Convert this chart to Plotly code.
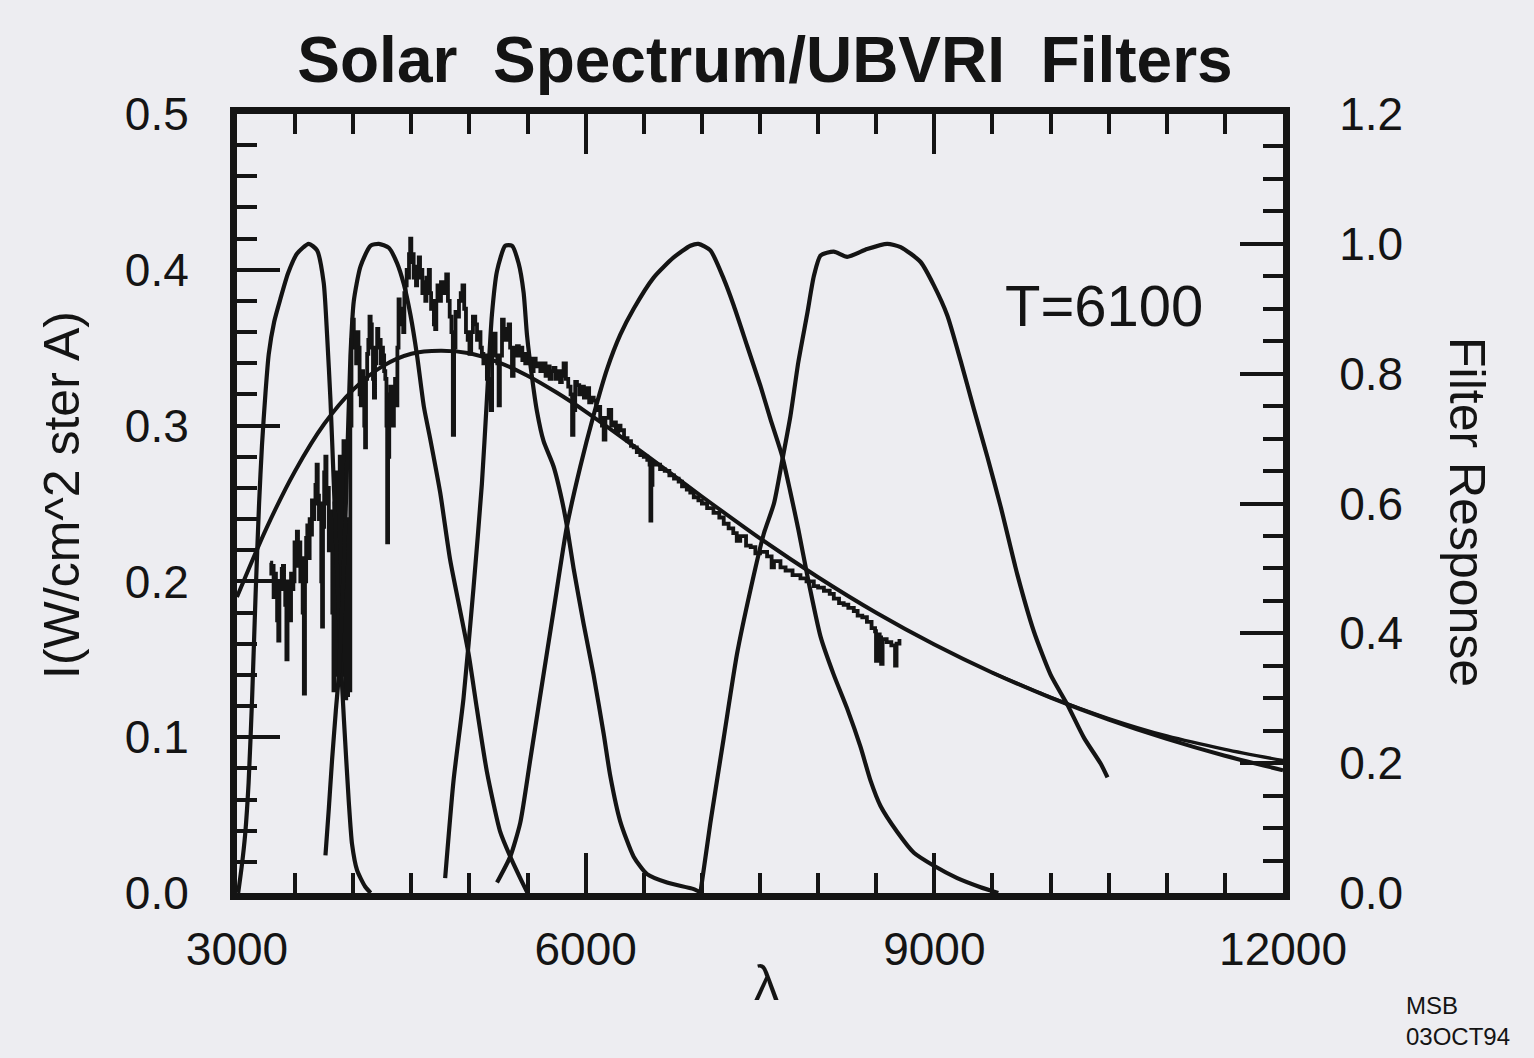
import plotly.graph_objects as go

# ---------------- data ----------------
# Blackbody curve, T = 6100 K  (left axis, I(W/cm^2 ster A))
bb_wl = [3000, 3250, 3500, 3750, 4000, 4250, 4500, 4750, 5000, 5250, 5500, 5750,
         6000, 6500, 7000, 7500, 8000, 8500, 9000, 9500, 10000, 10500, 11000, 11500, 12000]
bb_I = [0.190, 0.2336, 0.2709, 0.3010, 0.3231, 0.3380, 0.3461, 0.3480, 0.3464, 0.3406, 0.3320, 0.3212,
        0.3090, 0.2822, 0.2545, 0.2276, 0.2027, 0.1799, 0.1595, 0.1414, 0.1254, 0.1113, 0.0989, 0.0881, 0.0788]

# second, nearly coincident long-wavelength curve
ir_wl = [9500, 10000, 10500, 11000, 11500, 12000]
ir_I = [0.1414, 0.1256, 0.1120, 0.1008, 0.0922, 0.0850]

# Observed solar spectrum (left axis)
spec_wl = [3285, 3295, 3305, 3315, 3325, 3335, 3345, 3355, 3365, 3375, 3385, 3395, 3405, 3415, 3425,
           3435, 3445, 3455, 3465, 3475, 3485, 3495, 3505, 3515, 3525, 3535, 3545, 3555, 3565, 3575,
           3585, 3595, 3605, 3615, 3625, 3635, 3645, 3655, 3665, 3675, 3685, 3695, 3705, 3715, 3725,
           3732, 3740, 3750, 3760, 3770, 3780, 3790, 3800, 3810, 3820, 3830, 3838, 3845, 3852, 3860,
           3868, 3876, 3884, 3892, 3900, 3908, 3916, 3924, 3932, 3940, 3948, 3956, 3962, 3968, 3975,
           3985, 3995, 4005, 4015, 4025, 4035, 4045, 4055, 4065, 4075, 4085, 4095, 4102, 4110, 4120,
           4130, 4140, 4150, 4160, 4170, 4178, 4188, 4198, 4206, 4216, 4226, 4236, 4246, 4256, 4266,
           4276, 4286, 4292, 4300, 4310, 4320, 4330, 4340, 4350, 4360, 4370, 4380, 4390, 4400, 4410,
           4420, 4430, 4440, 4450, 4460, 4470, 4480, 4490, 4500, 4510, 4520, 4530, 4540, 4550, 4564,
           4575, 4585, 4595, 4608, 4620, 4630, 4640, 4650, 4660, 4670, 4680, 4694, 4705, 4715, 4725,
           4740, 4755, 4770, 4785, 4800, 4815, 4830, 4845, 4857, 4868, 4880, 4895, 4910, 4925, 4940,
           4955, 4970, 4985, 5000, 5015, 5030, 5050, 5065, 5080, 5095, 5107, 5120, 5135, 5150, 5164,
           5172, 5183, 5195, 5210, 5225, 5240, 5251, 5262, 5280, 5295, 5310, 5325, 5337, 5350, 5366,
           5380, 5395, 5409, 5425, 5440, 5455, 5466, 5480, 5495, 5510, 5525, 5540, 5552, 5570, 5590,
           5610, 5625, 5638, 5655, 5670, 5690, 5705, 5724, 5740, 5760, 5780, 5795, 5810, 5830, 5850,
           5870, 5883, 5895, 5910, 5925, 5945, 5965, 5985, 6011, 6030, 6050, 6069, 6090, 6110, 6125,
           6140, 6155, 6170, 6198, 6220, 6240, 6260, 6280, 6300, 6330, 6360, 6390, 6413, 6440, 6470,
           6500, 6530, 6550, 6557, 6565, 6575, 6600, 6640, 6680, 6720, 6760, 6800, 6829, 6870, 6900,
           6930, 6970, 7000, 7045, 7100, 7150, 7188, 7230, 7270, 7300, 7330, 7380, 7420, 7460, 7500,
           7561, 7600, 7620, 7676, 7720, 7780, 7848, 7900, 7963, 8000, 8050, 8100, 8135, 8180, 8220,
           8260, 8307, 8340, 8380, 8420, 8460, 8490, 8498, 8510, 8530, 8542, 8555, 8590, 8630, 8662,
           8675, 8700]
spec_I = [0.212, 0.205, 0.210, 0.190, 0.205, 0.198, 0.175, 0.162, 0.200, 0.195, 0.208, 0.210, 0.200, 0.185, 0.150,
          0.190, 0.200, 0.175, 0.205, 0.195, 0.200, 0.225, 0.215, 0.232, 0.210, 0.225, 0.200, 0.215, 0.180, 0.128,
          0.200, 0.228, 0.236, 0.215, 0.240, 0.230, 0.252, 0.240, 0.250, 0.262, 0.275, 0.255, 0.240, 0.250, 0.200,
          0.171, 0.235, 0.270, 0.280, 0.250, 0.260, 0.220, 0.245, 0.230, 0.180, 0.130, 0.250, 0.180, 0.270, 0.140,
          0.220, 0.150, 0.280, 0.160, 0.240, 0.140, 0.290, 0.200, 0.125, 0.150, 0.127, 0.240, 0.200, 0.130, 0.300,
          0.355, 0.368, 0.350, 0.360, 0.340, 0.360, 0.350, 0.320, 0.313, 0.335, 0.330, 0.300, 0.286, 0.330, 0.346,
          0.355, 0.370, 0.365, 0.350, 0.330, 0.318, 0.340, 0.350, 0.362, 0.350, 0.355, 0.340, 0.350, 0.345, 0.335,
          0.330, 0.300, 0.225, 0.280, 0.320, 0.325, 0.315, 0.300, 0.320, 0.330, 0.313, 0.350, 0.381, 0.370, 0.365,
          0.375, 0.360, 0.385, 0.390, 0.400, 0.395, 0.410, 0.420, 0.405, 0.410, 0.395, 0.400, 0.390, 0.402, 0.408,
          0.395, 0.400, 0.385, 0.392, 0.380, 0.395, 0.390, 0.400, 0.385, 0.375, 0.380, 0.365, 0.362, 0.380, 0.390,
          0.380, 0.392, 0.385, 0.390, 0.397, 0.380, 0.370, 0.360, 0.294, 0.350, 0.373, 0.370, 0.380, 0.385, 0.390,
          0.375, 0.360, 0.355, 0.346, 0.360, 0.370, 0.365, 0.355, 0.360, 0.350, 0.346, 0.340, 0.345, 0.330, 0.318,
          0.330, 0.310, 0.350, 0.359, 0.345, 0.340, 0.313, 0.345, 0.368, 0.360, 0.355, 0.362, 0.365, 0.350, 0.332,
          0.345, 0.350, 0.351, 0.345, 0.350, 0.342, 0.346, 0.340, 0.345, 0.340, 0.343, 0.335, 0.343, 0.338, 0.340,
          0.335, 0.340, 0.340, 0.332, 0.338, 0.330, 0.335, 0.337, 0.330, 0.335, 0.328, 0.332, 0.340, 0.330, 0.325,
          0.320, 0.294, 0.310, 0.328, 0.326, 0.320, 0.325, 0.318, 0.324, 0.315, 0.318, 0.316, 0.310, 0.312, 0.305,
          0.300, 0.291, 0.305, 0.310, 0.300, 0.302, 0.296, 0.300, 0.297, 0.292, 0.290, 0.287, 0.286, 0.283, 0.281,
          0.280, 0.278, 0.275, 0.239, 0.262, 0.276, 0.275, 0.272, 0.271, 0.268, 0.266, 0.264, 0.261, 0.259, 0.257,
          0.254, 0.252, 0.250, 0.247, 0.244, 0.241, 0.237, 0.234, 0.231, 0.226, 0.229, 0.223, 0.222, 0.218, 0.219,
          0.216, 0.209, 0.213, 0.209, 0.207, 0.204, 0.202, 0.200, 0.197, 0.196, 0.194, 0.192, 0.189, 0.186, 0.185,
          0.183, 0.181, 0.178, 0.177, 0.174, 0.170, 0.168, 0.149, 0.166, 0.164, 0.147, 0.163, 0.161, 0.159, 0.146,
          0.160, 0.163]

# UBVRI filter responses (right axis)
u_wl = [3010, 3040, 3070, 3100, 3130, 3160, 3190, 3215, 3245, 3273, 3320, 3373, 3440, 3517, 3617,
        3689, 3746, 3775, 3804, 3833, 3861, 3890, 3919, 3962, 3990, 4033, 4102, 4150]
u_v = [0.0, 0.04, 0.09, 0.17, 0.30, 0.46, 0.60, 0.69, 0.77, 0.83, 0.88, 0.915, 0.955, 0.985, 1.0,
       0.99, 0.94, 0.86, 0.76, 0.63, 0.50, 0.37, 0.27, 0.14, 0.075, 0.035, 0.01, 0.0]

b_wl = [3761, 3790, 3818, 3850, 3876, 3919, 3947, 3976, 4005, 4062, 4148, 4220, 4306, 4378, 4435,
        4493, 4550, 4608, 4662, 4748, 4834, 4920, 4992, 5064, 5150, 5265, 5351, 5437, 5500]
b_v = [0.058, 0.13, 0.205, 0.28, 0.336, 0.50, 0.66, 0.827, 0.912, 0.965, 0.997, 1.0, 0.994, 0.97, 0.938,
       0.89, 0.827, 0.749, 0.70, 0.617, 0.513, 0.435, 0.369, 0.284, 0.187, 0.094, 0.056, 0.023, 0.0]

v_wl = [4791, 4863, 4949, 5035, 5107, 5150, 5193, 5237, 5308, 5366, 5423, 5466, 5495, 5538, 5581,
        5638, 5724, 5796, 5839, 5896, 5982, 6068, 6155, 6212, 6298, 6413, 6528, 6700, 6930, 7000]
v_v = [0.023, 0.173, 0.30, 0.47, 0.63, 0.76, 0.89, 0.958, 0.997, 0.997, 0.97, 0.925, 0.86, 0.795, 0.742,
       0.696, 0.657, 0.605, 0.565, 0.50, 0.415, 0.336, 0.245, 0.18, 0.11, 0.056, 0.029, 0.016, 0.006, 0.0]

r_wl = [5237, 5351, 5437, 5523, 5609, 5724, 5839, 5954, 6068, 6184, 6298, 6413, 6585, 6757, 6901,
        6970, 7073, 7188, 7274, 7389, 7504, 7590, 7691, 7762, 7830, 7906, 8021, 8135, 8250, 8365,
        8451, 8537, 8681, 8824, 8996, 9197, 9398, 9550]
r_v = [0.016, 0.056, 0.108, 0.205, 0.304, 0.435, 0.565, 0.657, 0.736, 0.807, 0.86, 0.90, 0.948, 0.979, 0.997,
       1.0, 0.99, 0.946, 0.905, 0.843, 0.781, 0.73, 0.673, 0.617, 0.56, 0.49, 0.395, 0.336, 0.284, 0.225,
       0.173, 0.134, 0.094, 0.062, 0.042, 0.023, 0.009, 0.0]

i_wl = [6987, 7073, 7188, 7303, 7418, 7532, 7620, 7690, 7762, 7830, 7906, 7963, 8021, 8135, 8250,
        8422, 8595, 8710, 8882, 8996, 9111, 9226, 9341, 9456, 9571, 9715, 9858, 10001, 10145, 10288,
        10432, 10490]
i_v = [0.0, 0.108, 0.239, 0.369, 0.467, 0.553, 0.60, 0.665, 0.735, 0.818, 0.892, 0.95, 0.982, 0.988, 0.98,
       0.992, 1.0, 0.995, 0.972, 0.936, 0.89, 0.82, 0.745, 0.672, 0.595, 0.49, 0.402, 0.336, 0.29, 0.239,
       0.199, 0.178]

x_ticks = [3000, 6000, 9000, 12000]

# ---------------- styling ----------------
ink = "#141414"
paper = "#ededf1"
font_family = "Liberation Sans, Arial, Helvetica, sans-serif"

fig = go.Figure()

fig.add_trace(go.Scatter(x=bb_wl, y=bb_I, mode="lines", yaxis="y",
                         line=dict(color=ink, width=4, shape="spline", smoothing=0.8),
                         showlegend=False, hoverinfo="skip"))
fig.add_trace(go.Scatter(x=ir_wl, y=ir_I, mode="lines", yaxis="y",
                         line=dict(color=ink, width=3.4, shape="spline", smoothing=0.8),
                         showlegend=False, hoverinfo="skip"))
fig.add_trace(go.Scatter(x=spec_wl, y=spec_I, mode="lines", yaxis="y",
                         line=dict(color=ink, width=3.8, shape="hv"),
                         showlegend=False, hoverinfo="skip"))

for name, wl, v in [("U", u_wl, u_v), ("B", b_wl, b_v), ("V", v_wl, v_v),
                    ("R", r_wl, r_v), ("I", i_wl, i_v)]:
    fig.add_trace(go.Scatter(x=wl, y=v, mode="lines", yaxis="y2", name=name,
                             line=dict(color=ink, width=4.2, shape="spline", smoothing=0.6),
                             showlegend=False, hoverinfo="skip"))

tickfont = dict(family=font_family, size=46, color=ink)

fig.update_layout(
    width=1534, height=1058,
    margin=dict(l=237, r=251, t=114, b=165),
    paper_bgcolor=paper, plot_bgcolor=paper,
    showlegend=False,
    title=dict(text="Solar\u00a0\u00a0Spectrum/UBVRI\u00a0\u00a0Filters",
               x=765 / 1534, xanchor="center", xref="container",
               y=1 - 60 / 1058, yanchor="middle", yref="container",
               font=dict(family=font_family, size=64, color=ink, weight="bold")),
    xaxis=dict(range=[3000, 12000], tickmode="array", tickvals=x_ticks,
               ticktext=[str(t) for t in x_ticks],
               ticks="inside", ticklen=40, tickwidth=4, tickcolor=ink,
               minor=dict(dtick=500, tick0=3000, ticks="inside", ticklen=20, tickwidth=4, tickcolor=ink),
               showline=True, linewidth=7, linecolor=ink, mirror="ticks",
               showgrid=False, zeroline=False, tickfont=tickfont, ticklabelstandoff=10),
    yaxis=dict(range=[0, 0.5], tick0=0, dtick=0.1, tickformat=".1f",
               ticks="inside", ticklen=43, tickwidth=4, tickcolor=ink,
               minor=dict(dtick=0.02, tick0=0, ticks="inside", ticklen=20, tickwidth=4, tickcolor=ink),
               showline=True, linewidth=7, linecolor=ink, mirror=False,
               showgrid=False, zeroline=False, tickfont=tickfont, ticklabelstandoff=32),
    yaxis2=dict(range=[0, 1.2], tick0=0, dtick=0.2, tickformat=".1f",
                overlaying="y", side="right",
                ticks="inside", ticklen=43, tickwidth=4, tickcolor=ink,
                minor=dict(dtick=0.05, tick0=0, ticks="inside", ticklen=20, tickwidth=4, tickcolor=ink),
                showline=True, linewidth=7, linecolor=ink,
                showgrid=False, zeroline=False, tickfont=tickfont, ticklabelstandoff=40),
    annotations=[
        dict(text="I(W/cm^2 ster A)", textangle=-90, xref="paper", yref="paper",
             x=(62 - 237) / 1046, y=(893 - 495) / 779, xanchor="center", yanchor="middle",
             showarrow=False, font=dict(family=font_family, size=50, color=ink)),
        dict(text="Filter Response", textangle=90, xref="paper", yref="paper",
             x=(1467 - 237) / 1046, y=(893 - 512) / 779, xanchor="center", yanchor="middle",
             showarrow=False, font=dict(family=font_family, size=50, color=ink)),
        dict(text="λ", xref="paper", yref="paper",
             x=(766 - 237) / 1046, y=(893 - 983) / 779, xanchor="center", yanchor="middle",
             showarrow=False, font=dict(family=font_family, size=50, color=ink)),
        dict(text="T=6100", xref="paper", yref="paper",
             x=(1104 - 237) / 1046, y=(893 - 305) / 779, xanchor="center", yanchor="middle",
             showarrow=False, font=dict(family=font_family, size=58, color=ink)),
        dict(text="MSB<br>03OCT94", xref="paper", yref="paper", align="left",
             x=(1404 - 237) / 1046, y=(893 - 990) / 779, xanchor="left", yanchor="top",
             showarrow=False, font=dict(family=font_family, size=24, color=ink)),
    ],
)

fig.write_html("out.html")
